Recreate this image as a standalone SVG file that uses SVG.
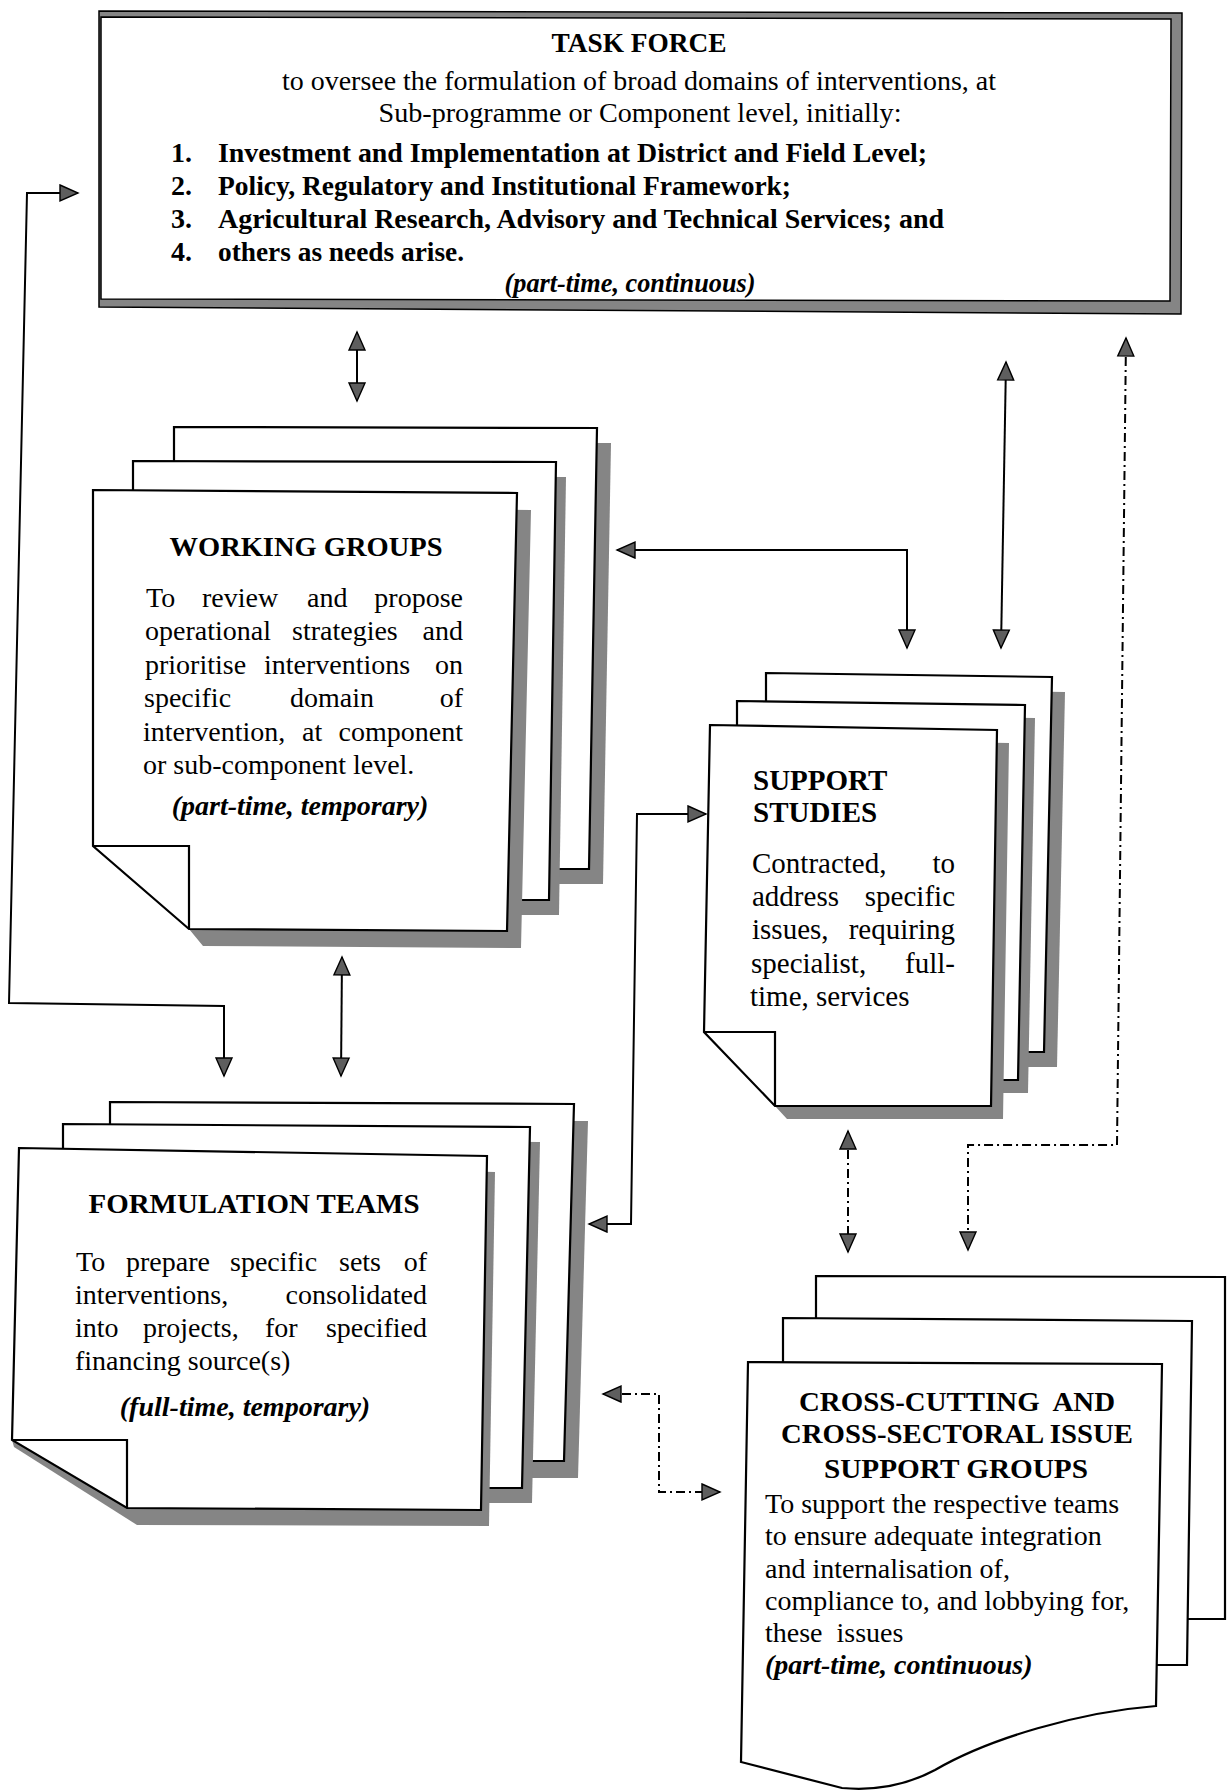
<svg xmlns="http://www.w3.org/2000/svg" width="1229" height="1790" viewBox="0 0 1229 1790">
<defs>
<marker id="ah" viewBox="-2 -2 22 20" refX="18" refY="8" markerWidth="22" markerHeight="20" markerUnits="userSpaceOnUse" orient="auto-start-reverse"><path d="M0,0 L18,8 L0,16 Z" fill="#5e5e5e" stroke="#000" stroke-width="1.4"/></marker>
</defs>
<style>
.pg{fill:#fff;stroke:#000;stroke-width:2.2;stroke-linejoin:miter}
.sh{fill:#858585;stroke:none}
.fl{fill:none;stroke:#000;stroke-width:2.2}
.ln{fill:none;stroke:#000;stroke-width:2;marker-start:url(#ah);marker-end:url(#ah)}
.dd{fill:none;stroke:#000;stroke-width:2;stroke-dasharray:9 4 2 4;marker-start:url(#ah);marker-end:url(#ah)}
.t{font-family:"Liberation Serif","Times New Roman",serif;font-size:28px;fill:#000}
.b{font-weight:bold}
.bi{font-weight:bold;font-style:italic}
.c{text-anchor:middle}
.e{text-anchor:end}
</style>
<rect width="1229" height="1790" fill="#fff"/>

<g id="task-force">
<polygon points="99,11 1182,13 1181,314 99,307" fill="#858585" stroke="#000" stroke-width="1.5"/>
<polygon points="101,17 1171,19 1170,301 101,299" fill="#fff" stroke="#000" stroke-width="1.5"/>
<text class="t b c" x="639" y="52" textLength="175" lengthAdjust="spacingAndGlyphs">TASK FORCE</text>
<text class="t c" x="639" y="90" textLength="714" lengthAdjust="spacingAndGlyphs">to oversee the formulation of broad domains of interventions, at</text>
<text class="t c" x="640" y="122" textLength="523" lengthAdjust="spacingAndGlyphs">Sub-programme or Component level, initially:</text>
<text class="t b" x="171" y="162">1.</text>
<text class="t b" x="171" y="195">2.</text>
<text class="t b" x="171" y="228">3.</text>
<text class="t b" x="171" y="261">4.</text>
<text class="t b" x="218" y="162" textLength="709" lengthAdjust="spacingAndGlyphs">Investment and Implementation at District and Field Level;</text>
<text class="t b" x="218" y="195" textLength="573" lengthAdjust="spacingAndGlyphs">Policy, Regulatory and Institutional Framework;</text>
<text class="t b" x="218" y="228" textLength="726" lengthAdjust="spacingAndGlyphs">Agricultural Research, Advisory and Technical Services; and</text>
<text class="t b" x="218" y="261" textLength="246" lengthAdjust="spacingAndGlyphs">others as needs arise.</text>
<text class="t bi c" x="630" y="292" textLength="251" lengthAdjust="spacingAndGlyphs">(part-time, continuous)</text>
</g>

<g id="working-groups">
<polygon class="sh" points="188,442 611,443 603,884 310,884 188,715"/>
<polygon class="pg" points="174,427 597,428 589,869 300,869 174,700"/>
<polygon class="sh" points="143,476 566,477 559,915 310,915 143,715"/>
<polygon class="pg" points="133,461 556,462 549,900 300,900 133,700"/>
<polygon class="sh" points="107,507 531,510 521,948 203,946 189,929 189,600"/>
<polygon class="pg" points="93,490 517,493 507,931 189,929 93,846"/>
<polyline class="fl" points="93,846 189,846 189,929"/>
<text class="t b c" x="306" y="556" textLength="273" lengthAdjust="spacingAndGlyphs">WORKING GROUPS</text>
<text class="t" y="607"><tspan x="146">To</tspan><tspan x="202">review</tspan><tspan x="307">and</tspan><tspan x="463" text-anchor="end">propose</tspan></text>
<text class="t" y="640"><tspan x="145">operational</tspan><tspan x="292">strategies</tspan><tspan x="463" text-anchor="end">and</tspan></text>
<text class="t" y="674"><tspan x="145">prioritise</tspan><tspan x="264">interventions</tspan><tspan x="463" text-anchor="end">on</tspan></text>
<text class="t" y="707"><tspan x="144">specific</tspan><tspan x="290">domain</tspan><tspan x="463" text-anchor="end">of</tspan></text>
<text class="t" y="741"><tspan x="143">intervention,</tspan><tspan x="302">at</tspan><tspan x="463" text-anchor="end">component</tspan></text>
<text class="t" x="143" y="774">or sub-component level.</text>
<text class="t bi c" x="300" y="815">(part-time, temporary)</text>
</g>

<g id="support-studies">
<polygon class="sh" points="779,688 1065,692 1057,1067 860,1067 779,963"/>
<polygon class="pg" points="766,673 1052,677 1044,1052 850,1052 766,950"/>
<polygon class="sh" points="747,714 1035,718 1028,1093 860,1093 747,963"/>
<polygon class="pg" points="737,701 1025,705 1018,1080 850,1080 737,950"/>
<polygon class="sh" points="722,738 1009,743 1003,1119 787,1119 775,1106 775,800"/>
<polygon class="pg" points="710,725 997,730 991,1106 775,1106 704,1032"/>
<polyline class="fl" points="704,1032 775,1032 775,1106"/>
<text class="t b" x="753" y="790" style="font-size:29px">SUPPORT</text>
<text class="t b" x="753" y="822" style="font-size:29px">STUDIES</text>
<text class="t" y="873" style="font-size:29px"><tspan x="752">Contracted,</tspan><tspan x="955" text-anchor="end">to</tspan></text>
<text class="t" y="906" style="font-size:29px"><tspan x="752">address</tspan><tspan x="955" text-anchor="end">specific</tspan></text>
<text class="t" y="939" style="font-size:29px"><tspan x="752">issues,</tspan><tspan x="955" text-anchor="end">requiring</tspan></text>
<text class="t" y="973" style="font-size:29px"><tspan x="751">specialist,</tspan><tspan x="955" text-anchor="end">full-</tspan></text>
<text class="t" x="750" y="1006" style="font-size:29px">time, services</text>
</g>

<g id="formulation-teams">
<polygon class="sh" points="124,1119 588,1121 578,1478 260,1478 124,1315"/>
<polygon class="pg" points="110,1102 574,1104 564,1461 250,1461 110,1300"/>
<polygon class="sh" points="73,1139 540,1142 532,1503 260,1503 73,1315"/>
<polygon class="pg" points="63,1124 530,1127 522,1488 250,1488 63,1300"/>
<polygon class="sh" points="19,1160 495,1172 489,1526 137,1525 14,1447 12,1440"/>
<polygon class="pg" points="19,1148 487,1156 481,1510 127,1508 12,1440"/>
<polyline class="fl" points="12,1440 127,1440 127,1508"/>
<text class="t b c" x="254" y="1213" textLength="331" lengthAdjust="spacingAndGlyphs">FORMULATION TEAMS</text>
<text class="t" y="1271"><tspan x="76">To</tspan><tspan x="126">prepare</tspan><tspan x="230">specific</tspan><tspan x="339">sets</tspan><tspan x="427" text-anchor="end">of</tspan></text>
<text class="t" y="1304"><tspan x="75">interventions,</tspan><tspan x="427" text-anchor="end">consolidated</tspan></text>
<text class="t" y="1337"><tspan x="75">into</tspan><tspan x="143">projects,</tspan><tspan x="265">for</tspan><tspan x="427" text-anchor="end">specified</tspan></text>
<text class="t" x="75" y="1370">financing source(s)</text>
<text class="t bi c" x="245" y="1416">(full-time, temporary)</text>
</g>

<g id="cross-cutting-groups">
<polygon class="pg" points="816,1276 1225,1277 1225,1619 816,1619" stroke-width="2"/>
<polygon class="pg" points="783,1318 1192,1321 1187,1665 783,1665" stroke-width="2"/>
<path class="pg" stroke-width="2" d="M748,1362 L1162,1364 L1156,1706 C1080,1712 990,1738 935,1770 C905,1786 875,1791 842,1788 L741,1762 Z"/>
<text class="t b c" x="957" y="1411" textLength="316" lengthAdjust="spacingAndGlyphs" xml:space="preserve">CROSS-CUTTING  AND</text>
<text class="t b c" x="957" y="1443" textLength="352" lengthAdjust="spacingAndGlyphs">CROSS-SECTORAL ISSUE</text>
<text class="t b c" x="956" y="1478" textLength="264" lengthAdjust="spacingAndGlyphs">SUPPORT GROUPS</text>
<text class="t" x="765" y="1513">To support the respective teams</text>
<text class="t" x="765" y="1545">to ensure adequate integration</text>
<text class="t" x="765" y="1578">and internalisation of,</text>
<text class="t" x="765" y="1610">compliance to, and lobbying for,</text>
<text class="t" x="765" y="1642" xml:space="preserve">these  issues</text>
<text class="t bi" x="765" y="1674">(part-time, continuous)</text>
</g>

<g id="connectors">
<path class="ln" d="M78,193 L27,193 L9,1003 L224,1006 L224,1076"/>
<path class="ln" d="M357,332 L357,401"/>
<path class="ln" d="M617,550 L907,550 L907,648"/>
<path class="ln" d="M1006,362 L1001,648"/>
<path class="dd" d="M1126,338 L1117,1145 L968,1145 L968,1250"/>
<path class="ln" d="M342,957 L341,1076"/>
<path class="ln" d="M706,814 L637,814 L631,1224 L589,1224"/>
<path class="dd" d="M848,1131 L848,1252"/>
<path class="dd" d="M603,1394 L659,1394 L659,1492 L720,1492"/>
</g>
</svg>
